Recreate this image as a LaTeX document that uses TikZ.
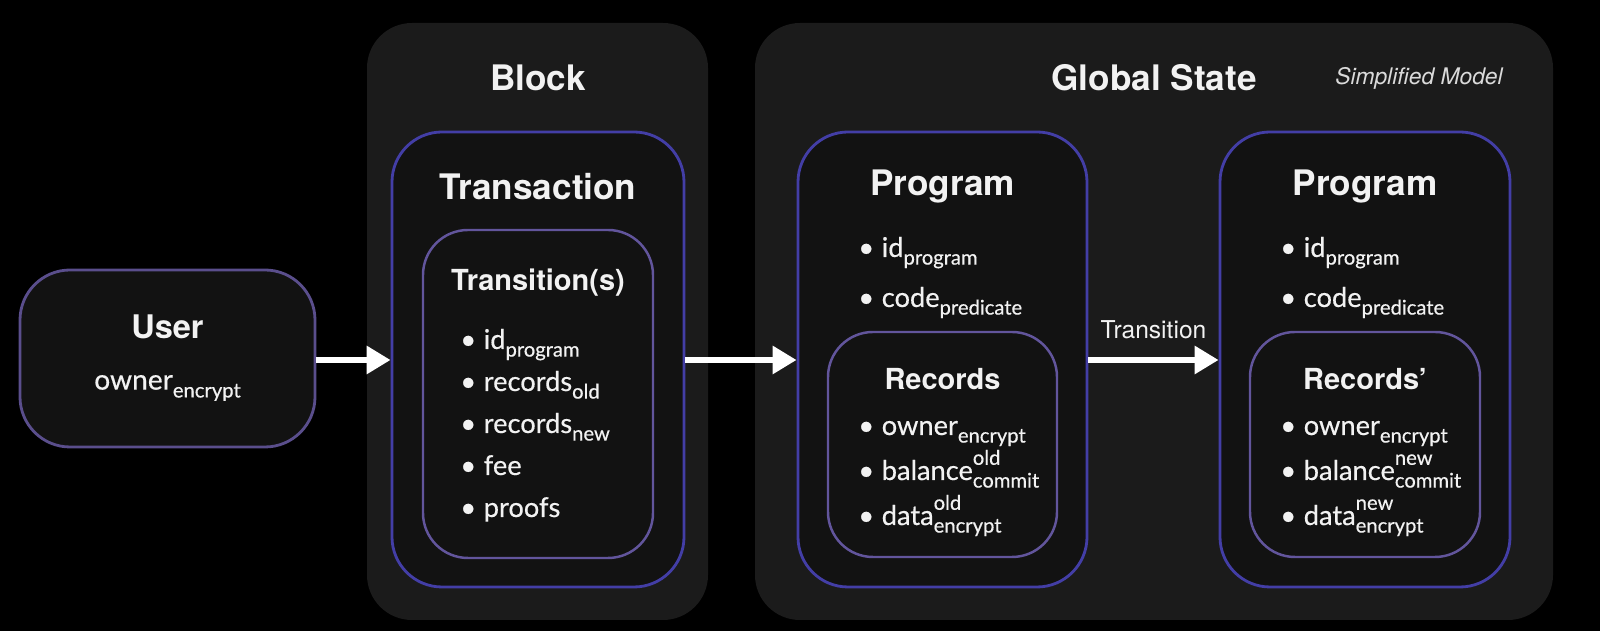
\documentclass[tikz,border=0pt]{standalone}
\usepackage{fontspec}
\setmainfont{Lato}
\newfontfamily\headfont{TeX Gyre Heros}
\newfontfamily\itemfont[FakeBold=0.5]{Lato}
\usetikzlibrary{arrows.meta,positioning}

\definecolor{panelgray}{HTML}{1B1B1B}
\definecolor{boxfill}{HTML}{121212}
\definecolor{outerline}{HTML}{433EA6}
\definecolor{innerline}{HTML}{62559C}
\definecolor{userline}{HTML}{5A4E8C}
\definecolor{softwhite}{HTML}{F2F2F2}

\newcommand{\lo}[1]{\raisebox{-0.55ex}{\fontsize{11.5}{11.5}\selectfont #1}}
\newcommand{\hilo}[2]{\rlap{\raisebox{1.1ex}{\fontsize{11.5}{11.5}\selectfont #1}}\lo{#2}}

\begin{document}
\begin{tikzpicture}[
    panel/.style={fill=panelgray, rounded corners=0.9cm, inner sep=0pt, minimum height=11.94cm},
    outerbox/.style={draw=outerline, line width=1.6pt, fill=boxfill, rounded corners=1cm, inner sep=0pt, minimum height=9.1cm},
    innerbox/.style={draw=innerline, line width=1.4pt, fill=boxfill, rounded corners=0.9cm, inner sep=0pt},
    userbox/.style={draw=userline, line width=1.6pt, fill=boxfill, rounded corners=1cm, inner sep=0pt},
    bigtitle/.style={text=softwhite, font=\headfont\bfseries\fontsize{20}{24}\selectfont},
    subtitle/.style={text=softwhite, font=\headfont\bfseries\fontsize{16.5}{20}\selectfont},
    item/.style={anchor=base west, inner sep=0pt, text=softwhite, font=\itemfont\fontsize{15.5}{18}\selectfont},
    flow/.style={draw=white, line width=3.6pt, -{Triangle[length=4.8mm,width=5.4mm]}}
  ]
  \fill[black] (0,0) rectangle (32,12.62);
  \useasboundingbox (0,0) rectangle (32,12.62);

  % panels
  \node[panel, minimum width=6.82cm] (block) at (10.75,6.19) {};
  \node[panel, minimum width=15.96cm] (globalstate) at (23.08,6.19) {};
  \node[bigtitle] (blocktitle) at (10.76,11.06) {Block};
  \node[bigtitle] (globaltitle) at (23.08,11.06) {Global State};
  \node[text=softwhite!90!black, font=\headfont\itshape\fontsize{13}{15}\selectfont] (modelnote) at (28.38,11.06) {Simplified Model};

  % user
  \node[userbox, minimum width=5.9cm, minimum height=3.54cm] (user) at (3.35,5.45) {};
  \node[text=softwhite, font=\headfont\bfseries\fontsize{18.5}{22}\selectfont] (usertitle) at (3.35,6.08) {User};
  \node[text=softwhite, font=\itemfont\fontsize{16}{19}\selectfont] (userowner) at (3.35,4.86) {owner\lo{encrypt}};

  % block
  \node[outerbox, minimum width=5.84cm] (transaction) at (10.76,5.43) {};
  \node[bigtitle] (transactiontitle) at (10.76,8.88) {Transaction};
  \node[innerbox, minimum width=4.6cm, minimum height=6.56cm] (transitions) at (10.76,4.74) {};
  \node[subtitle] (transitionstitle) at (10.76,6.96) {Transition(s)};
  \foreach \txt [count=\i] in {id\lo{program}, records\lo{old}, records\lo{new}, fee, proofs}
    \node[item] (trans-\i) at (9.2,{5.64-0.84*(\i-1)}) {\textbullet\hspace{0.28em}\txt};

  % global state, old program
  \node[outerbox, minimum width=5.78cm] (programold) at (18.85,5.43) {};
  \node[bigtitle] (programoldtitle) at (18.85,8.88) {Program};
  \node[item] (progold-1) at (17.16,7.48) {\textbullet\hspace{0.28em}id\lo{program}};
  \node[item] (progold-2) at (17.16,6.48) {\textbullet\hspace{0.28em}code\lo{predicate}};
  \node[innerbox, minimum width=4.58cm, minimum height=4.5cm] (recordsold) at (18.85,3.73) {};
  \node[subtitle] (recordsoldtitle) at (18.85,5.04) {Records};
  \foreach \txt [count=\i] in {owner\lo{encrypt}, balance\hilo{old}{commit}, data\hilo{old}{encrypt}}
    \node[item] (recold-\i) at (17.16,{3.92-0.9*(\i-1)}) {\textbullet\hspace{0.28em}\txt};

  % global state, new program
  \node[outerbox, minimum width=5.8cm] (programnew) at (27.3,5.43) {};
  \node[bigtitle] (programnewtitle) at (27.3,8.88) {Program};
  \node[item] (prognew-1) at (25.6,7.48) {\textbullet\hspace{0.28em}id\lo{program}};
  \node[item] (prognew-2) at (25.6,6.48) {\textbullet\hspace{0.28em}code\lo{predicate}};
  \node[innerbox, minimum width=4.6cm, minimum height=4.5cm] (recordsnew) at (27.3,3.73) {};
  \node[subtitle] (recordsnewtitle) at (27.3,5.04) {Records’};
  \foreach \txt [count=\i] in {owner\lo{encrypt}, balance\hilo{new}{commit}, data\hilo{new}{encrypt}}
    \node[item] (recnew-\i) at (25.6,{3.92-0.9*(\i-1)}) {\textbullet\hspace{0.28em}\txt};

  % arrows
  \draw[flow] (user.east |- 0,5.42) -- (transaction.west |- 0,5.42);
  \draw[flow] (transaction.east |- 0,5.42) -- (programold.west |- 0,5.42);
  \draw[flow] (programold.east |- 0,5.42) -- (programnew.west |- 0,5.42)
    node[midway, above=0.36cm, inner sep=0pt, text=softwhite, font=\headfont\fontsize{14}{16}\selectfont] (translabel) {Transition};
\end{tikzpicture}
\end{document}
